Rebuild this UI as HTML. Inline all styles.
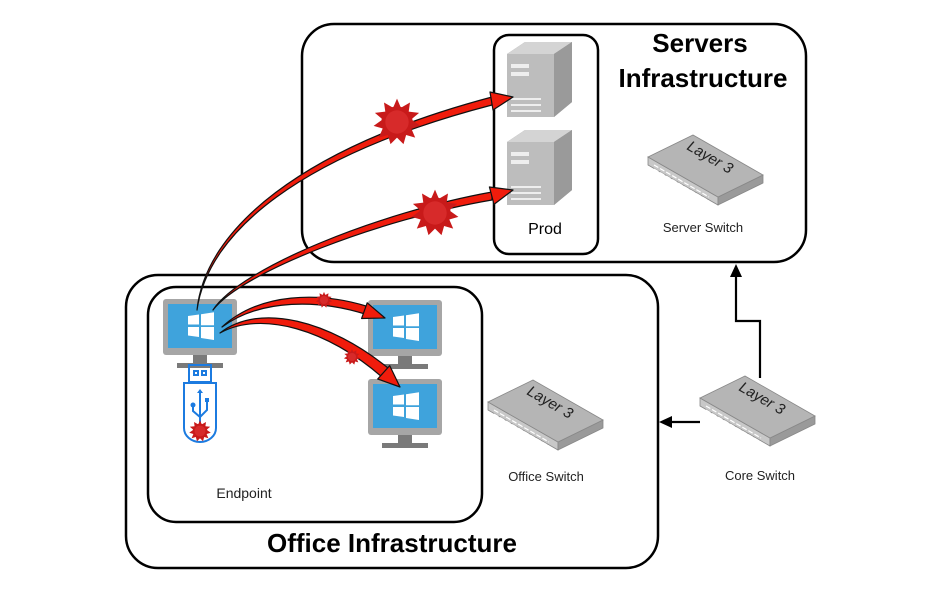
<!DOCTYPE html>
<html><head><meta charset="utf-8"><style>
html,body{margin:0;padding:0;background:#fff;}
svg{display:block;font-family:"Liberation Sans",sans-serif;}
</style></head><body>
<svg width="941" height="595" viewBox="0 0 941 595" xmlns="http://www.w3.org/2000/svg">
<defs>
<g id="mon">
  <rect x="0" y="0" width="74" height="56" rx="3" fill="#a6a6a6"/>
  <rect x="5" y="5" width="64" height="44" fill="#3fa3dc"/>
  <path d="M25 17 l11 -1.5 v10 h-11z M38 15.2 l13 -2 v13 h-13z M25 28 h11 v10 l-11 -1.5z M38 28 h13 v13 l-13 -2z" fill="#fff"/>
  <rect x="30" y="56" width="14" height="9" fill="#7a7a7a"/>
  <rect x="14" y="64" width="46" height="5" fill="#7a7a7a"/>
</g>
<g id="srv">
  <polygon points="0,12 18,0 65,0 65,60 47,75 0,75" fill="#8c8c8c"/>
  <polygon points="0,12 18,0 65,0 47,12" fill="#d4d4d4"/>
  <polygon points="47,12 65,0 65,60 47,75" fill="#9a9a9a"/>
  <rect x="0" y="12" width="47" height="63" fill="#bdbdbd"/>
  <rect x="4" y="22" width="18" height="4" fill="#eee"/><rect x="4" y="30" width="18" height="4" fill="#eee"/>
  <rect x="4" y="56" width="30" height="2" fill="#eee"/><rect x="4" y="62" width="30" height="2" fill="#eee"/><rect x="4" y="68" width="30" height="2" fill="#eee"/>
</g>
<g id="sw">
  <polygon points="0,22 0,30 70,70 70,62" fill="#c8c8c8" stroke="#888" stroke-width="0.8"/>
  <polygon points="70,62 115,40 115,48 70,70" fill="#9a9a9a" stroke="#888" stroke-width="0.8"/>
  <polygon points="0,22 45,0 115,40 70,62" fill="#b5b5b5" stroke="#888" stroke-width="0.8"/>
  <text x="0" y="0" font-size="15" font-style="italic" fill="#222" transform="translate(38,14) rotate(30)">Layer 3</text>
  <path d="M6 30 l55 32 M6 34 l55 32" stroke="#fff" stroke-width="1.2" stroke-dasharray="5 2"/>
</g>
<g id="virus">
  <circle r="12" fill="#c81a1a"/>
  <path d="M0-18L3-11 10-15 9-8 17-7 11-2 18 3 11 5 14 12 7 10 5 17 0 12-5 17-7 10-14 12-11 5-18 3-11-2-17-7-9-8-10-15-3-11z" fill="#c81a1a"/>
  <circle r="9" fill="#d72a2a"/>
</g>
</defs>

<rect x="302" y="24" width="504" height="238" rx="32" fill="none" stroke="#000" stroke-width="2.5"/>
<rect x="494" y="35" width="104" height="219" rx="15" fill="none" stroke="#000" stroke-width="2.5"/>
<rect x="126" y="275" width="532" height="293" rx="32" fill="none" stroke="#000" stroke-width="2.5"/>
<rect x="148" y="287" width="334" height="235" rx="28" fill="none" stroke="#000" stroke-width="2.5"/>

<text x="700" y="52" font-size="26" font-weight="bold" text-anchor="middle">Servers</text>
<text x="703" y="87" font-size="26" font-weight="bold" text-anchor="middle">Infrastructure</text>
<text x="392" y="552" font-size="26" font-weight="bold" text-anchor="middle">Office Infrastructure</text>
<text x="545" y="234" font-size="16" text-anchor="middle">Prod</text>
<text x="703" y="232" font-size="13" text-anchor="middle" fill="#222">Server Switch</text>
<text x="546" y="481" font-size="13" text-anchor="middle" fill="#222">Office Switch</text>
<text x="760" y="480" font-size="13" text-anchor="middle" fill="#222">Core Switch</text>
<text x="244" y="498" font-size="14" text-anchor="middle" fill="#222">Endpoint</text>

<use href="#srv" x="507" y="42"/>
<use href="#srv" x="507" y="130"/>
<use href="#sw" x="648" y="135"/>
<use href="#sw" x="488" y="380"/>
<use href="#sw" x="700" y="376"/>

<use href="#mon" x="163" y="299"/>
<use href="#mon" x="368" y="300"/>
<use href="#mon" x="368" y="379"/>

<g fill="none" stroke="#1c7be0" stroke-width="2">
  <rect x="189" y="365" width="22" height="17"/>
  <rect x="194" y="371" width="4" height="4"/><rect x="202" y="371" width="4" height="4"/>
  <path d="M184 383 h32 v45 a16 14 0 0 1 -32 0z"/>
  <path d="M200 392 v35 M193 405 v6 l7 6 M207 402 v8 l-7 7"/>
</g>
<circle cx="193" cy="405" r="2.5" fill="#1c7be0"/><rect x="205" y="398" width="4" height="4" fill="#1c7be0"/>
<path d="M197 393 l3 -4 3 4z" fill="#1c7be0"/>
<use href="#virus" transform="translate(200,431) scale(0.6)"/>

<g fill="none" stroke="#000" stroke-width="2.2">
  <path d="M760 378 V321 H736 V272"/>
  <path d="M700 422 H668"/>
</g>
<polygon points="736,264 730,277 742,277" fill="#000"/>
<polygon points="659,422 672,416 672,428" fill="#000"/>

<g fill="#f01c0c" stroke="#111" stroke-width="1.2" stroke-linejoin="round">
  <path d="M197,310 C 205,230 300,148 492,97 L492,105 C 300,155 208,232 197,310Z"/>
  <path d="M213,310 C 240,268 380,212 492,192 L492,200 C 380,219 242,272 213,310Z"/>
  <path d="M222,327 C 260,292 320,292 366,306 L365,314 C 320,300 262,298 222,327Z"/>
  <path d="M220,333 C 260,302 330,321 388,368 L382,377 C 328,330 262,310 220,333Z"/>
  <polygon points="513,97 493,110 490,92"/>
  <polygon points="513,190 494,204.4 489.4,187"/>
  <polygon points="385,318 361.6,318.5 367.2,302.8"/>
  <polygon points="400,387 377.7,379 389.7,365.6"/>
</g>
<use href="#virus" transform="translate(397,122) scale(1.3)"/>
<use href="#virus" transform="translate(435,213) scale(1.3)"/>
<use href="#virus" transform="translate(324,300) scale(0.45)"/>
<use href="#virus" transform="translate(352,357) scale(0.45)"/>
</svg>
</body></html>
